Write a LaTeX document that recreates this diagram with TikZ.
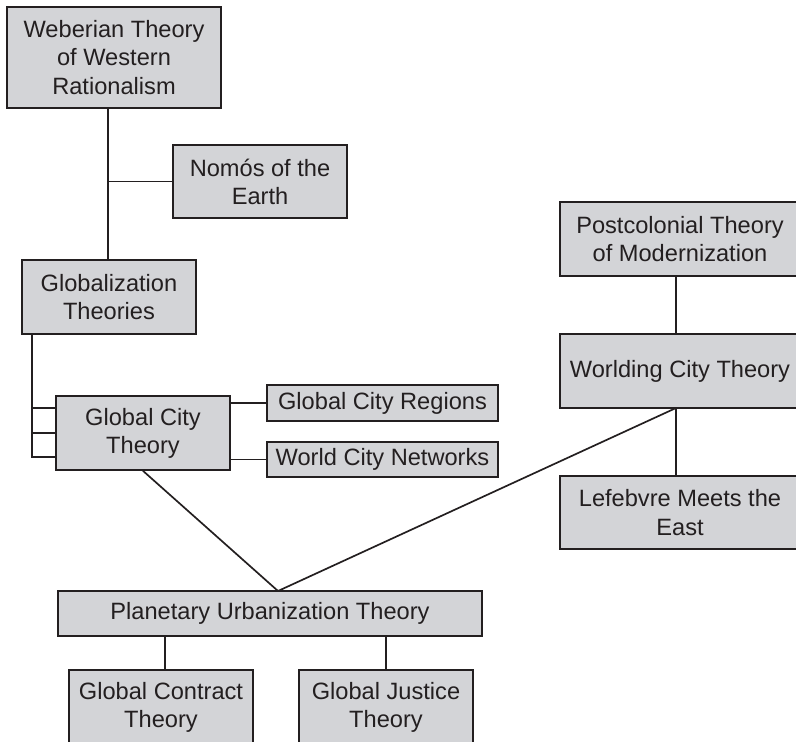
\documentclass[tikz,border=0pt]{standalone}
\usepackage{fontspec}
\setmainfont{Liberation Sans}
\definecolor{boxgray}{RGB}{211,212,215}
\definecolor{inkgray}{RGB}{35,31,32}
\tikzset{
  theory/.style={draw=inkgray, fill=boxgray, text=inkgray, line width=1.2pt,
    align=center, inner sep=0pt, font=\fontsize{16.8}{20}\selectfont},
  link/.style={draw=inkgray, line width=1.2pt}
}
\begin{document}
\begin{tikzpicture}[x=0.025cm, y=-0.025cm]
            \useasboundingbox (0,0) rectangle (796,742);
            \node(web) [theory, minimum width=5.35cm, minimum height=2.525cm] at (114,57.5) {Weberian Theory\\of Western\\Rationalism};
            \node(nomos) [theory, minimum width=4.35cm, minimum height=1.825cm] at (260,181.5) {Nomós of the\\Earth};
            \node(glob) [theory, minimum width=4.35cm, minimum height=1.85cm] at (109,297) {Globalization\\Theories};
            \node(gct) [theory, minimum width=4.35cm, minimum height=1.85cm] at (143,433) {Global City\\Theory};
            \node(gcr) [theory, minimum width=5.775cm, minimum height=0.9cm] at (382.5,403) {Global City Regions};
            \node(wcn) [theory, minimum width=5.775cm, minimum height=0.875cm] at (382.5,459.5) {World City Networks};
            \node(post) [theory, minimum width=6cm, minimum height=1.85cm] at (680,239) {Postcolonial Theory\\of Modernization};
            \node(world) [theory, minimum width=6cm, minimum height=1.85cm] at (680,371) {Worlding City Theory};
            \node(lef) [theory, minimum width=6cm, minimum height=1.825cm] at (680,512.5) {Lefebvre Meets the\\East};
            \node(pla) [theory, minimum width=10.6cm, minimum height=1.125cm] at (270,613.5) {Planetary Urbanization Theory};
            \node(contract) [theory, minimum width=4.6cm, minimum height=1.875cm] at (161,707.5) {Global Contract\\Theory};
            \node(justice) [theory, minimum width=4.35cm, minimum height=1.875cm] at (386,707.5) {Global Justice\\Theory};
            % connector points
            \coordinate(trunk) at (108,108);
            \coordinate(left) at (32,334);
            \coordinate(join) at (278,591);
            \coordinate(wfoot) at (676,408);
            \coordinate(cfoot) at (165,636);
            \draw[link](trunk) -- (trunk |- glob.north);
            \draw[link](nomos.west) -- (nomos.west -| trunk);
            \draw[link](left) -- ++(0,123) -- ++(24,0);
            \draw[link]([yshift=0.625cm]gct.west) -- ([yshift=0.625cm]gct.west -| left);
            \draw[link](gct.west) -- (gct.west -| left);
            \draw[link](gct.east |- gcr.west) -- (gcr.west);
            \draw[link](gct.east |- wcn.west) -- (wcn.west);
            \draw[link](post.south -| wfoot) -- (world.north -| wfoot);
            \draw[link](wfoot) -- (lef.north -| wfoot);
            \draw[link](gct.south) -- (join);
            \draw[link](wfoot) -- (join);
            \draw[link](cfoot) -- (cfoot |- contract.north);
            \draw[link](justice.north |- pla.south) -- (justice.north);
            \end{tikzpicture}
\end{document}
